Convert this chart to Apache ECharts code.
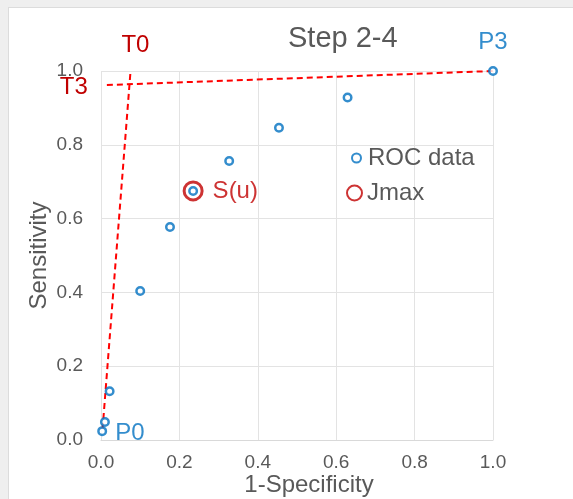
<!DOCTYPE html>
<html>
  <head>
    <meta charset="utf-8" />
    <title>Step 2-4 ROC</title>
    <script src="https://cdn.jsdelivr.net/npm/echarts@6/dist/echarts.min.js"></script>
    <style>
      html, body {
        margin: 0;
        padding: 0;
        width: 573px;
        height: 499px;
        overflow: hidden;
        background: #efefef;
      }
      #main {
        position: absolute;
        left: 8px;
        top: 7px;
        width: 565px;
        height: 492px;
        background: #ffffff;
        border-left: 1px solid #dcdcdc;
        border-top: 1px solid #dcdcdc;
      }
    </style>
  </head>
  <body>
    <div id="main"></div>
    <script type="text/javascript">
      // ROC points: [1-specificity, sensitivity]
      var rocX = [0.003, 0.01, 0.022, 0.1, 0.176, 0.235, 0.327, 0.454, 0.629, 1.0];
      var rocY = [0.024, 0.049, 0.132, 0.404, 0.577, 0.675, 0.756, 0.846, 0.928, 1.0];
      var jmaxPoint = [0.235, 0.675];
      // tangent lines
      var t0Line = [[0.004, 0.03], [0.075, 0.995]];
      var t3Line = [[0.015, 0.962], [1.0, 1.0]];

      var blue = "#0070C0";
      var darkRed = "#C00000";
      var gray = "#595959";
      var font = "'Liberation Sans', Arial, sans-serif";

      var rocData = rocX.map(function (x, i) {
        var item = { value: [x, rocY[i]] };
        if (i === 0) {
          item.label = { show: true, formatter: "P0", position: "right", distance: 8, offset: [0, 2] };
        } else if (i === rocX.length - 1) {
          item.label = { show: true, formatter: "P3", position: "top", distance: 12 };
        }
        return item;
      });

      // labels on one end of a dashed line
      function lineData(points, labelIdx, label) {
        return points.map(function (p, i) {
          var item = { value: p };
          if (i === labelIdx) item.label = label;
          return item;
        });
      }

      var myChart = echarts.init(document.getElementById("main"));
      var option = {
        animation: false,
        textStyle: { fontFamily: font },
        title: {
          text: "Step 2-4",
          left: 279,
          top: 16,
          padding: 0,
          textStyle: { color: gray, fontSize: 29, fontWeight: "normal", fontFamily: font },
        },
        legend: [
          {
            data: ["ROC data"],
            left: 342,
            top: 138,
            padding: 0,
            icon: "circle",
            itemWidth: 9,
            itemHeight: 9,
            textStyle: { color: gray, fontSize: 24, fontFamily: font, padding: [0, 0, 0, 2] },
          },
          {
            data: ["Jmax"],
            left: 337,
            top: 173,
            padding: 0,
            icon: "circle",
            itemWidth: 15,
            itemHeight: 15,
            textStyle: { color: gray, fontSize: 24, fontFamily: font },
          },
        ],
        grid: { left: 92, right: 81, top: 63, bottom: 60, outerBoundsMode: "none" },
        xAxis: {
          type: "value",
          min: 0,
          max: 1,
          interval: 0.2,
          name: "1-Specificity",
          nameLocation: "middle",
          nameGap: 33,
          nameMoveOverlap: false,
          nameTextStyle: { color: gray, fontSize: 24, fontFamily: font, padding: [0, 0, 0, 24] },
          axisLine: { show: true, lineStyle: { color: "#d9d9d9" } },
          axisTick: { show: false },
          axisLabel: {
            color: gray,
            fontSize: 19,
            margin: 13,
            formatter: function (v) { return v.toFixed(1); },
          },
          splitLine: { show: true, lineStyle: { color: "#e3e3e3" } },
        },
        yAxis: {
          type: "value",
          min: 0,
          max: 1,
          interval: 0.2,
          name: "Sensitivity",
          nameLocation: "middle",
          nameGap: 50,
          nameMoveOverlap: false,
          nameRotate: 90,
          nameTextStyle: { color: gray, fontSize: 24, fontFamily: font },
          axisLine: { show: false },
          axisTick: { show: false },
          axisLabel: {
            color: gray,
            fontSize: 19,
            margin: 18,
            formatter: function (v) { return v.toFixed(1); },
          },
          splitLine: { show: true, lineStyle: { color: "#e3e3e3" } },
        },
        series: [
          {
            name: "T0",
            type: "line",
            data: lineData(t0Line, 1, { show: true, formatter: "T0", position: "top", distance: 15, offset: [5, 0] }),
            symbol: "circle",
            symbolSize: 0.01,
            itemStyle: { color: "#FF0000" },
            lineStyle: { color: "#FF0000", width: 2, type: [6, 4] },
            label: { color: darkRed, fontSize: 24, fontFamily: font },
            z: 2,
          },
          {
            name: "T3",
            type: "line",
            data: lineData(t3Line, 0, { show: true, formatter: "T3", position: "left", distance: 19, offset: [0, 2] }),
            symbol: "circle",
            symbolSize: 0.01,
            itemStyle: { color: "#FF0000" },
            lineStyle: { color: "#FF0000", width: 2, type: [6, 4] },
            label: { color: darkRed, fontSize: 24, fontFamily: font },
            z: 2,
          },
          {
            name: "Jmax",
            type: "scatter",
            data: [
              {
                value: jmaxPoint,
                label: { show: true, formatter: "S(u)", position: "right", distance: 9 },
              },
            ],
            symbol: "circle",
            symbolSize: 18,
            itemStyle: { color: "#ffffff", borderColor: darkRed, borderWidth: 3 },
            label: { color: darkRed, fontSize: 24, fontFamily: font },
            z: 3,
          },
          {
            name: "ROC data",
            type: "scatter",
            data: rocData,
            symbol: "circle",
            symbolSize: 7.5,
            itemStyle: { color: "#ffffff", borderColor: blue, borderWidth: 2.5 },
            label: { color: blue, fontSize: 24, fontFamily: font },
            z: 4,
          },
        ],
      };
      myChart.setOption(option);
    </script>
  </body>
</html>
